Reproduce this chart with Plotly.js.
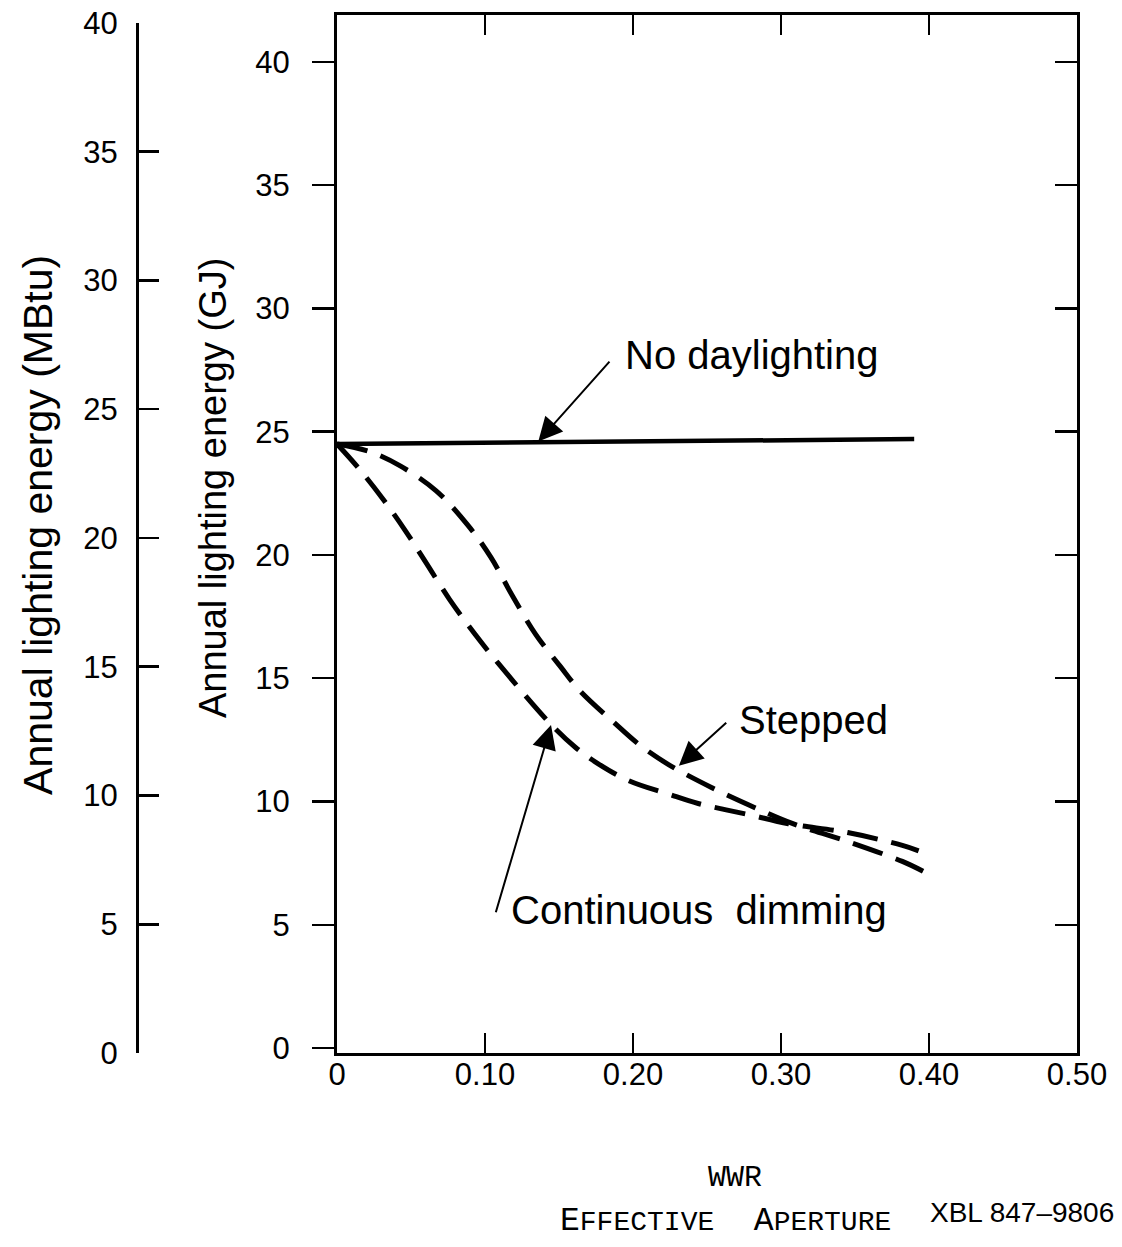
<!DOCTYPE html>
<html>
<head>
<meta charset="utf-8">
<script src="https://cdn.plot.ly/plotly-3.0.1.min.js"></script>
<style>html,body{margin:0;padding:0;background:#fff;}#chart{width:1122px;height:1247px;}</style>
</head>
<body>
<div id="chart"></div>
<script>
// ---- Data ----
const wwrNoDaylight = [0, 0.39];
const energyNoDaylight = [24.5, 24.7];

const wwrStepped = [0, 0.023, 0.043, 0.067, 0.0885, 0.104, 0.118, 0.134, 0.151, 0.164, 0.188, 0.205, 0.224, 0.253, 0.285, 0.308, 0.345, 0.382, 0.396];
const energyStepped = [24.5, 24.17, 23.6, 22.6, 21.2, 19.9, 18.4, 16.8, 15.47, 14.5, 13.16, 12.27, 11.5, 10.57, 9.68, 9.1, 8.38, 7.57, 7.17];

const wwrContinuous = [0, 0.014, 0.031, 0.046, 0.060, 0.076, 0.093, 0.109, 0.145, 0.161, 0.176, 0.197, 0.224, 0.244, 0.278, 0.305, 0.345, 0.382, 0.393];
const energyContinuous = [24.5, 23.56, 22.27, 21.0, 19.7, 18.2, 16.8, 15.6, 13.1, 12.2, 11.55, 10.85, 10.3, 9.92, 9.47, 9.1, 8.74, 8.22, 8.0];

const xTickVals = [0, 0.1, 0.2, 0.3, 0.4, 0.5];
const xTickText = ['0', '0.10', '0.20', '0.30', '0.40', '0.50'];
const gjTickVals = [0, 5, 10, 15, 20, 25, 30, 35, 40];
const gjRightTickVals = [5, 10, 15, 20, 25, 30, 35, 40];
const mbtuTickVals = [0, 5, 10, 15, 20, 25, 30, 35, 40];

const FONT = 'Liberation Sans, Arial, Helvetica, sans-serif';
const MONO = 'Liberation Mono, DejaVu Sans Mono, monospace';

const traces = [
  {x: wwrNoDaylight, y: energyNoDaylight, type: 'scatter', mode: 'lines',
   line: {color: '#000', width: 4.5}, hoverinfo: 'skip', showlegend: false},
  {x: wwrStepped, y: energyStepped, type: 'scatter', mode: 'lines',
   line: {color: '#000', width: 5, dash: '31px,14px', shape: 'spline', smoothing: 1}, hoverinfo: 'skip', showlegend: false},
  {x: wwrContinuous, y: energyContinuous, type: 'scatter', mode: 'lines',
   line: {color: '#000', width: 5, dash: '31px,14px', shape: 'spline', smoothing: 1}, hoverinfo: 'skip', showlegend: false},
  {x: [null], y: [null], yaxis: 'y2', type: 'scatter', mode: 'lines', hoverinfo: 'skip', showlegend: false},
  {x: [null], y: [null], yaxis: 'y3', type: 'scatter', mode: 'lines', hoverinfo: 'skip', showlegend: false}
];

function arrow(x, y, ax, ay) {
  return {x: x, y: y, ax: ax, ay: ay, xref: 'x', yref: 'y', axref: 'x', ayref: 'y',
          text: '', showarrow: true, arrowhead: 2, arrowsize: 2.4, arrowwidth: 2, arrowcolor: '#000', standoff: 0, startstandoff: 0};
}

const layout = {
  width: 1122, height: 1247,
  margin: {l: 100, r: 45, t: 15, b: 194},
  paper_bgcolor: '#fff', plot_bgcolor: 'rgba(0,0,0,0)',
  showlegend: false,
  font: {family: FONT, color: '#000'},
  xaxis: {
    domain: [0.2426, 1], range: [0, 0.5], anchor: 'y',
    tickmode: 'array', tickvals: xTickVals, ticktext: xTickText,
    ticks: 'inside', ticklen: 20, tickwidth: 2.5, tickcolor: '#000',
    showline: true, linewidth: 3, linecolor: '#000', mirror: 'ticks',
    showgrid: false, zeroline: false,
    tickfont: {size: 31, family: FONT, color: '#000'}, ticklabelstandoff: -8
  },
  yaxis: {
    domain: [0, 1], range: [-0.2, 41.9], anchor: 'x',
    tickmode: 'array', tickvals: gjTickVals,
    ticks: 'outside', ticklen: 22, tickwidth: 2.5, tickcolor: '#000',
    showline: true, linewidth: 3, linecolor: '#000', mirror: true,
    showgrid: false, zeroline: false,
    tickfont: {size: 31, family: FONT, color: '#000'}, ticklabelstandoff: 16
  },
  yaxis3: {
    overlaying: 'y', side: 'right', range: [-0.2, 41.9], anchor: 'x',
    tickmode: 'array', tickvals: gjRightTickVals,
    ticks: 'inside', ticklen: 22, tickwidth: 2.5, tickcolor: '#000',
    showline: false, showticklabels: false, showgrid: false, zeroline: false
  },
  yaxis2: {
    domain: [0, 0.9923], range: [0, 40], anchor: 'free', position: 0.0379, side: 'left',
    tickmode: 'array', tickvals: mbtuTickVals,
    ticks: 'inside', ticklen: 20, tickwidth: 2.5, tickcolor: '#000',
    showline: true, linewidth: 2.5, linecolor: '#000',
    showgrid: false, zeroline: false,
    tickfont: {size: 31, family: FONT, color: '#000'}, ticklabelstandoff: 12
  },
  annotations: [
    {text: 'Annual lighting energy (GJ)', textangle: -90, xref: 'paper', yref: 'paper',
     x: 0.1157, y: 0.5443, xanchor: 'center', yanchor: 'middle', showarrow: false,
     font: {size: 38, family: FONT, color: '#000'}},
    {text: 'Annual lighting energy (MBtu)', textangle: -90, xref: 'paper', yref: 'paper',
     x: -0.0635, y: 0.5087, xanchor: 'center', yanchor: 'middle', showarrow: false,
     font: {size: 41, family: FONT, color: '#000'}},
    {text: 'No daylighting', xref: 'x', yref: 'y', x: 0.193, y: 28.1, xanchor: 'left', yanchor: 'middle',
     showarrow: false, font: {size: 40, family: FONT, color: '#000'}},
    {text: 'Stepped', xref: 'x', yref: 'y', x: 0.270, y: 13.3, xanchor: 'left', yanchor: 'middle',
     showarrow: false, font: {size: 40, family: FONT, color: '#000'}},
    {text: 'Continuous\u00a0 dimming', xref: 'x', yref: 'y', x: 0.116, y: 5.6, xanchor: 'left', yanchor: 'middle',
     showarrow: false, font: {size: 40, family: FONT, color: '#000'}},
    arrow(0.136, 24.6, 0.185, 27.9),
    arrow(0.231, 11.45, 0.264, 13.25),
    arrow(0.1446, 13.1, 0.107, 5.45),
    {text: 'WWR', xref: 'paper', yref: 'paper', x: 0.65, y: -0.1204, xanchor: 'center', yanchor: 'middle',
     showarrow: false, font: {size: 30, family: MONO, color: '#000'}},
    {text: 'E<span style="font-size:28px">FFECTIVE</span>\u00a0 A<span style="font-size:28px">PERTURE</span>',
     xref: 'paper', yref: 'paper', x: 0.6407, y: -0.1628, xanchor: 'center', yanchor: 'middle',
     showarrow: false, font: {size: 33, family: MONO, color: '#000'}},
    {text: 'XBL 847–9806', xref: 'paper', yref: 'paper', x: 0.9437, y: -0.1541, xanchor: 'center', yanchor: 'middle',
     showarrow: false, font: {size: 28, family: FONT, color: '#000'}}
  ]
};

Plotly.newPlot('chart', traces, layout, {staticPlot: true, displayModeBar: false});
</script>
</body>
</html>
